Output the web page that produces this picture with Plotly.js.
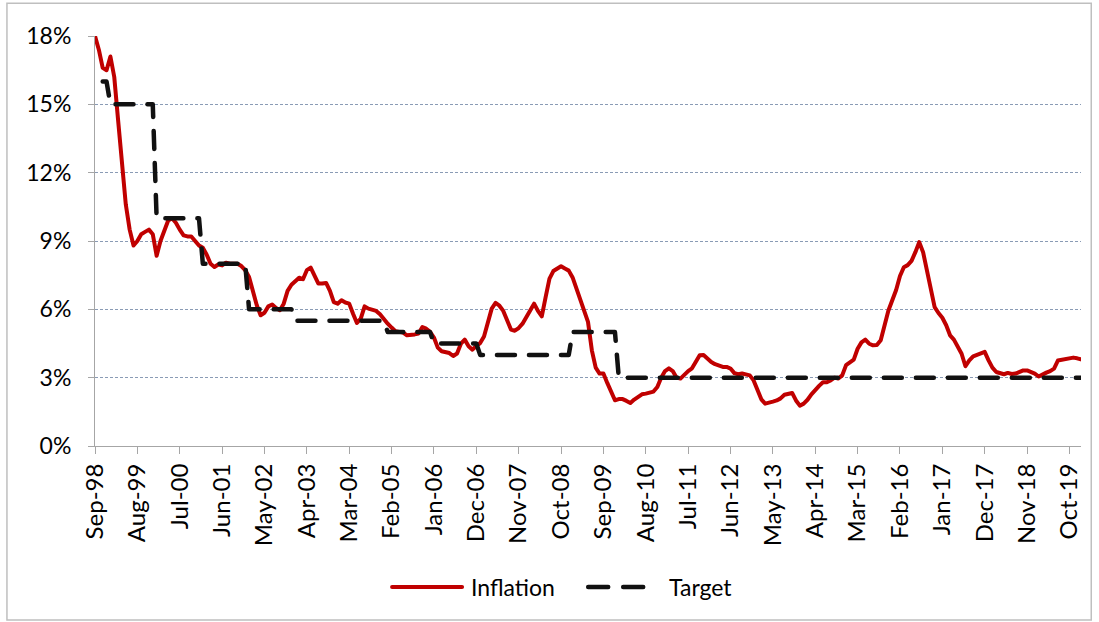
<!DOCTYPE html>
<html>
<head>
<meta charset="utf-8">
<script src="https://cdn.plot.ly/plotly-3.0.1.min.js"></script>
<style>
  html, body { margin: 0; padding: 0; background: #fff; }
  #chart { width: 1099px; height: 622px; }
  .scatterlayer .js-line { stroke-linecap: round; stroke-linejoin: round; }
  .shapelayer path { stroke-linecap: round; }
</style>
</head>
<body>
<div id="chart"></div>
<script>
// First month of the series and month names for category labels
const startYear = 1998;
const startMonth = 8; // September (0-based)
const monthNames = ["Jan","Feb","Mar","Apr","May","Jun","Jul","Aug","Sep","Oct","Nov","Dec"];

// Annual inflation (%), monthly, Sep-98 onwards
const inflation = [
  18.0, 17.4, 16.6, 16.5, 17.1, 16.2, 14.3, 12.4, 10.6, 9.5, 8.8, 9.0,
  9.3, 9.4, 9.5, 9.3, 8.35, 9.0, 9.5, 9.9, 10.0, 9.8, 9.5, 9.25,
  9.2, 9.2, 9.0, 8.8, 8.7, 8.4, 8.0, 7.86, 7.97, 7.93, 8.05, 8.0,
  8.0, 8.0, 7.9, 7.72, 7.42, 6.76, 6.18, 5.74, 5.85, 6.13, 6.21, 6.06,
  5.96, 6.25, 6.81, 7.08, 7.22, 7.39, 7.32, 7.72, 7.83, 7.5, 7.13, 7.13,
  7.16, 6.81, 6.32, 6.25, 6.4, 6.3, 6.25, 5.81, 5.4, 5.59, 6.13, 6.03,
  5.96, 5.93, 5.78, 5.56, 5.37, 5.2, 5.04, 5.01, 4.98, 4.86, 4.86, 4.9,
  4.94, 5.22, 5.15, 5.01, 4.76, 4.32, 4.16, 4.11, 4.08, 3.95, 4.06, 4.49,
  4.67, 4.38, 4.23, 4.39, 4.52, 4.81, 5.37, 6.03, 6.28, 6.16, 5.93, 5.52,
  5.11, 5.06, 5.18, 5.37, 5.66, 5.96, 6.25, 5.93, 5.69, 6.54, 7.35, 7.68,
  7.79, 7.89, 7.79, 7.7, 7.4, 6.91, 6.33, 5.96, 5.45, 4.2, 3.44, 3.18,
  3.18, 2.77, 2.33, 2.01, 2.06, 2.06, 1.98, 1.89, 2.04, 2.15, 2.27, 2.3,
  2.33, 2.39, 2.59, 3.0, 3.29, 3.41, 3.29, 3.0, 2.96, 3.15, 3.29, 3.41,
  3.69, 3.98, 3.99, 3.83, 3.69, 3.59, 3.53, 3.47, 3.47, 3.4, 3.2, 3.15,
  3.18, 3.16, 3.1, 2.88, 2.47, 2.05, 1.86, 1.89, 1.95, 2.0, 2.09, 2.25,
  2.3, 2.33, 2.0, 1.77, 1.86, 2.03, 2.27, 2.47, 2.64, 2.8, 2.8, 2.88,
  3.0, 2.96, 3.1, 3.55, 3.67, 3.79, 4.27, 4.55, 4.67, 4.49, 4.42, 4.43,
  4.64, 5.35, 5.95, 6.4, 6.85, 7.46, 7.85, 7.94, 8.13, 8.51, 8.95, 8.51,
  7.71, 6.84, 6.1, 5.84, 5.63, 5.3, 4.86, 4.67, 4.35, 4.05, 3.5, 3.76,
  3.94, 4.01, 4.08, 4.13, 3.76, 3.44, 3.25, 3.18, 3.15, 3.21, 3.16, 3.18,
  3.25, 3.32, 3.32, 3.24, 3.18, 3.05, 3.15, 3.22, 3.29, 3.4, 3.75, 3.79,
  3.79, 3.86, 3.88, 3.85, 3.8
];

// Inflation target (%) by year, applied to each month of that year
const targetYears  = [1998, 1999, 2000, 2001, 2002, 2003, 2004, 2005, 2006, 2007, 2008, 2009, 2010, 2011, 2012, 2013, 2014, 2015, 2016, 2017, 2018, 2019, 2020];
const targetValues = [16,   15,   10,   8,    6,    5.5,  5.5,  5,    4.5,  4,    4,    5,    3,    3,    3,    3,    3,    3,    3,    3,    3,    3,    3];
const targetFirstIndex = 2; // target series starts at Nov-98

// Tick labels shown on the x axis
const xTickLabels = ["Sep-98","Aug-99","Jul-00","Jun-01","May-02","Apr-03","Mar-04","Feb-05","Jan-06","Dec-06","Nov-07","Oct-08",
                     "Sep-09","Aug-10","Jul-11","Jun-12","May-13","Apr-14","Mar-15","Feb-16","Jan-17","Dec-17","Nov-18","Oct-19"];
const yTickVals = [0, 3, 6, 9, 12, 15, 18];
const yTickText = ["0%", "3%", "6%", "9%", "12%", "15%", "18%"];
const seriesNames = ["Inflation", "Target"];
const seriesColors = ["#C00000", "#111111"];

// Build month categories
const months = [];
const years = [];
for (let i = 0; i < inflation.length; i++) {
  const m = (startMonth + i) % 12;
  const y = startYear + Math.floor((startMonth + i) / 12);
  months.push(monthNames[m] + "-" + String(y).slice(2));
  years.push(y);
}
const target = years.map((y, i) => i < targetFirstIndex ? null : targetValues[targetYears.indexOf(y)]);

const FONT = "Lato, 'Open Sans', sans-serif";
const TARGET_DASH = "20px,15px";

const traces = [
  {
    x: months, y: inflation, name: seriesNames[0], type: "scatter", mode: "lines",
    line: { color: seriesColors[0], width: 4 }
  },
  {
    x: months, y: target, name: seriesNames[1], type: "scatter", mode: "lines",
    line: { color: seriesColors[1], width: 4.5, dash: "18px,14px" },
    connectgaps: false
  }
];

// Legend drawn as shapes + annotations below the plot (paper coords)
const legY = -0.344;
const layout = {
  width: 1099, height: 622,
  margin: { l: 95, r: 18, t: 36, b: 176 },
  paper_bgcolor: "#ffffff", plot_bgcolor: "#ffffff",
  font: { family: FONT, size: 23, color: "#000000" },
  showlegend: false,
  xaxis: {
    type: "category",
    range: [0, inflation.length - 1],
    tickmode: "array", tickvals: xTickLabels, ticktext: xTickLabels,
    tickangle: -90,
    ticks: "outside", ticklen: 7, tickcolor: "#A6A6A6", tickwidth: 1,
    showline: true, linecolor: "#A6A6A6", linewidth: 1,
    showgrid: false, zeroline: false,
    tickfont: { family: FONT, size: 24, color: "#000000" },
    fixedrange: true
  },
  yaxis: {
    range: [0, 18],
    tickmode: "array", tickvals: yTickVals, ticktext: yTickText,
    ticks: "outside", ticklen: 6, tickcolor: "#A6A6A6", tickwidth: 1,
    ticklabelstandoff: 12,
    showline: true, linecolor: "#A6A6A6", linewidth: 1,
    showgrid: true, gridcolor: "#8A9BB5", gridwidth: 1, griddash: "3px,2px",
    zeroline: false,
    tickfont: { family: FONT, size: 23, color: "#000000" },
    fixedrange: true
  },
  shapes: [
    {
      type: "rect", xref: "paper", yref: "paper",
      x0: -0.0893, x1: 1.0104, y0: -0.4244, y1: 1.08,
      line: { color: "#BFBFBF", width: 1.5 }, fillcolor: "rgba(0,0,0,0)", layer: "below"
    },
    {
      type: "line", xref: "paper", yref: "paper",
      x0: 0.3013, x1: 0.3723, y0: legY, y1: legY,
      line: { color: seriesColors[0], width: 4 }
    },
    {
      type: "line", xref: "paper", yref: "paper",
      x0: 0.5002, x1: 0.5560, y0: legY, y1: legY,
      line: { color: seriesColors[1], width: 4.5, dash: TARGET_DASH }
    }
  ],
  annotations: [
    {
      xref: "paper", yref: "paper", x: 0.3794, y: legY, xanchor: "left", yanchor: "middle",
      text: seriesNames[0], showarrow: false, font: { family: FONT, size: 23, color: "#000000" }
    },
    {
      xref: "paper", yref: "paper", x: 0.5803, y: legY, xanchor: "left", yanchor: "middle",
      text: seriesNames[1], showarrow: false, font: { family: FONT, size: 23, color: "#000000" }
    }
  ]
};

Plotly.newPlot("chart", traces, layout, { staticPlot: true, displayModeBar: false });
</script>
</body>
</html>
